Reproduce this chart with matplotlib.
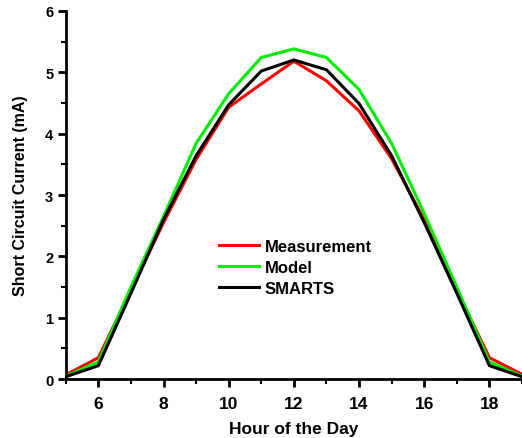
import numpy as np
import matplotlib
matplotlib.use('Agg')
import matplotlib.pyplot as plt
from matplotlib.ticker import MultipleLocator

plt.rcParams['font.family'] = ['Liberation Sans', 'DejaVu Sans']
plt.rcParams['font.weight'] = 'bold'

# data
hours = [5, 6, 7, 8, 9, 10, 11, 12, 13, 14, 15, 16, 17, 18, 19]
measurement = [0.07, 0.35, 1.45, 2.55, 3.58, 4.43, 4.81, 5.18, 4.86, 4.37, 3.59, 2.6, 1.45, 0.35, 0.08]
model = [0.05, 0.28, 1.5, 2.65, 3.84, 4.65, 5.24, 5.38, 5.24, 4.72, 3.84, 2.7, 1.5, 0.28, 0.05]
smarts = [0.04, 0.22, 1.4, 2.6, 3.64, 4.47, 5.02, 5.2, 5.04, 4.49, 3.64, 2.55, 1.4, 0.22, 0.04]

fig = plt.figure(figsize=(5.22, 4.39), dpi=100)
ax = fig.add_axes([0.126, 0.134, 0.874, 0.839])

ax.plot(hours, measurement, color='#ff0000', lw=2.2, label='Measurement')
ax.plot(hours, model, color='#00ee00', lw=2.2, label='Model')
ax.plot(hours, smarts, color='black', lw=2.2, label='SMARTS')

ax.set_xlim(5, 19)
ax.set_ylim(0, 6)
ax.xaxis.set_major_locator(MultipleLocator(2))
ax.xaxis.set_minor_locator(MultipleLocator(1))
ax.yaxis.set_major_locator(MultipleLocator(1))
ax.yaxis.set_minor_locator(MultipleLocator(0.5))
ax.set_xticks([6, 8, 10, 12, 14, 16, 18])

for s in ['top', 'right']:
    ax.spines[s].set_visible(False)
for s in ['left', 'bottom']:
    ax.spines[s].set_linewidth(2)

ax.tick_params(which='major', direction='out', length=6, width=2)
ax.tick_params(which='minor', direction='out', length=3.5, width=1.5)
ax.tick_params(axis='x', labelsize=12.5, pad=6)
ax.tick_params(axis='y', labelsize=10.5, pad=3)

ax.set_xlabel('Hour of the Day', fontsize=12.5, fontweight='bold', labelpad=7)
ax.set_ylabel('Short Circuit Current (mA)', fontsize=11.5, fontweight='bold', labelpad=12)

ax.legend(loc='center left', bbox_to_anchor=(0.336, 0.303), frameon=False,
          fontsize=12, handlelength=2.4, handletextpad=0.35, labelspacing=0.35,
          borderpad=0, borderaxespad=0)

fig.savefig('out.png', dpi=100)
